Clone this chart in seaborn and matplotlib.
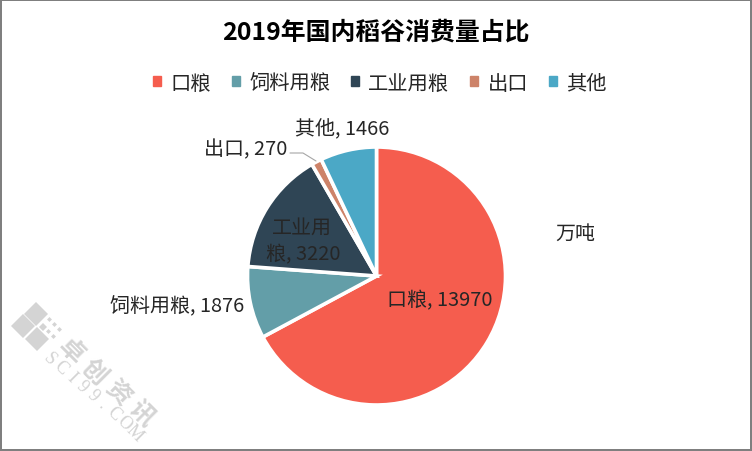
import matplotlib
matplotlib.use("Agg")
import matplotlib.pyplot as plt
from matplotlib.lines import Line2D
from matplotlib.patches import Rectangle
import seaborn as sns

# data
categories = ["口粮", "饲料用粮", "工业用粮", "出口", "其他"]
values = [13970, 1876, 3220, 270, 1466]
colors = ["#F55D4E", "#639EA8", "#2F4555", "#CD8369", "#4BA8C6"]

sns.set_theme(style="white")
plt.rcParams["font.family"] = ["Noto Sans CJK SC", "DejaVu Sans"]

W, H = 752, 452
fig = plt.figure(figsize=(W / 100, H / 100), dpi=100)

# pie, square axes placed in pixels
cx, cy, r = 376.5, 277, 129
ax = fig.add_axes([(cx - r) / W, 1 - (cy + r) / H, 2 * r / W, 2 * r / H])
wedges, _ = ax.pie(values, colors=sns.color_palette(colors), startangle=90, counterclock=False,
                   radius=1, wedgeprops={"edgecolor": "white", "linewidth": 2.6})
ax.set_xlim(-1, 1)
ax.set_ylim(-1, 1)


def px(x, y, s, **kw):
    fig.text(x / W, 1 - y / H, s, ha=kw.pop("ha", "center"), va="center", color=kw.pop("color", "#262626"), **kw)


px(376, 33, "2019年国内稻谷消费量占比", fontsize=17.9, fontweight="bold", color="black")

# data labels
px(440, 301, "口粮, 13970", fontsize=14.4)
px(177, 307, "饲料用粮, 1876", fontsize=14.4)
px(302, 228, "工业用", fontsize=14.4)
px(303, 255, "粮, 3220", fontsize=14.4)
px(246, 150, "出口, 270", fontsize=14.4)
px(342, 130, "其他, 1466", fontsize=14.4)
px(575, 234, "万吨", fontsize=14.4)

# leader line for the export slice
fig.add_artist(Line2D([290 / W, 303 / W, 316 / W], [1 - 154 / H, 1 - 154 / H, 1 - 162 / H],
                      color="#A6A6A6", lw=0.8))

# legend
handles = [Rectangle((0, 0), 1, 1, color=c) for c in colors]
fig.legend(handles, categories, loc="center", bbox_to_anchor=(380 / W, 1 - 84 / H), ncol=5, frameon=False,
           fontsize=14.6, handlelength=0.4, handleheight=0.4, handletextpad=0.45, columnspacing=1.03,
           labelcolor="#262626")

# watermark
wm = "#D4D4D4"
for x, y in [(23, 327), (36, 315), (37, 340)]:
    fig.add_artist(Line2D([x / W], [1 - y / H], marker="D", ms=12, color=wm, mew=0))
fig.add_artist(Line2D([43 / W], [1 - 328 / H], marker="D", ms=4.5, color=wm, mew=0))
for x, y in [(49, 320), (54, 325), (59, 330), (48, 332), (53, 337)]:
    fig.add_artist(Line2D([x / W], [1 - y / H], marker="D", ms=2.5, color=wm, mew=0))
for (x, y), ch in zip([(71, 351), (94, 372), (118, 393), (141, 414)], "卓创资讯"):
    fig.text(x / W, 1 - y / H, ch, fontsize=18, rotation=-45, color=wm, ha="center", va="center",
             fontweight="bold", rotation_mode="anchor")
for i, ch in enumerate("SCI99.COM"):
    fig.text((50 + i * 10.6) / W, 1 - (359 + i * 9.25) / H, ch, fontsize=13, rotation=-45, color=wm,
             ha="center", va="center", family="Liberation Serif", rotation_mode="anchor")

# screenshot border
border = "#7F7F7F"
fig.add_artist(Rectangle((0, 1 - 2 / H), 1, 2 / H, transform=fig.transFigure, color=border, lw=0))
fig.add_artist(Rectangle((0, 0), 2 / W, 1, transform=fig.transFigure, color=border, lw=0))
fig.add_artist(Rectangle((1 - 2 / W, 0), 2 / W, 1, transform=fig.transFigure, color=border, lw=0))
fig.add_artist(Rectangle((0, 0), 1, 2 / H, transform=fig.transFigure, color=border, lw=0))

fig.savefig("out.png", dpi=100)
